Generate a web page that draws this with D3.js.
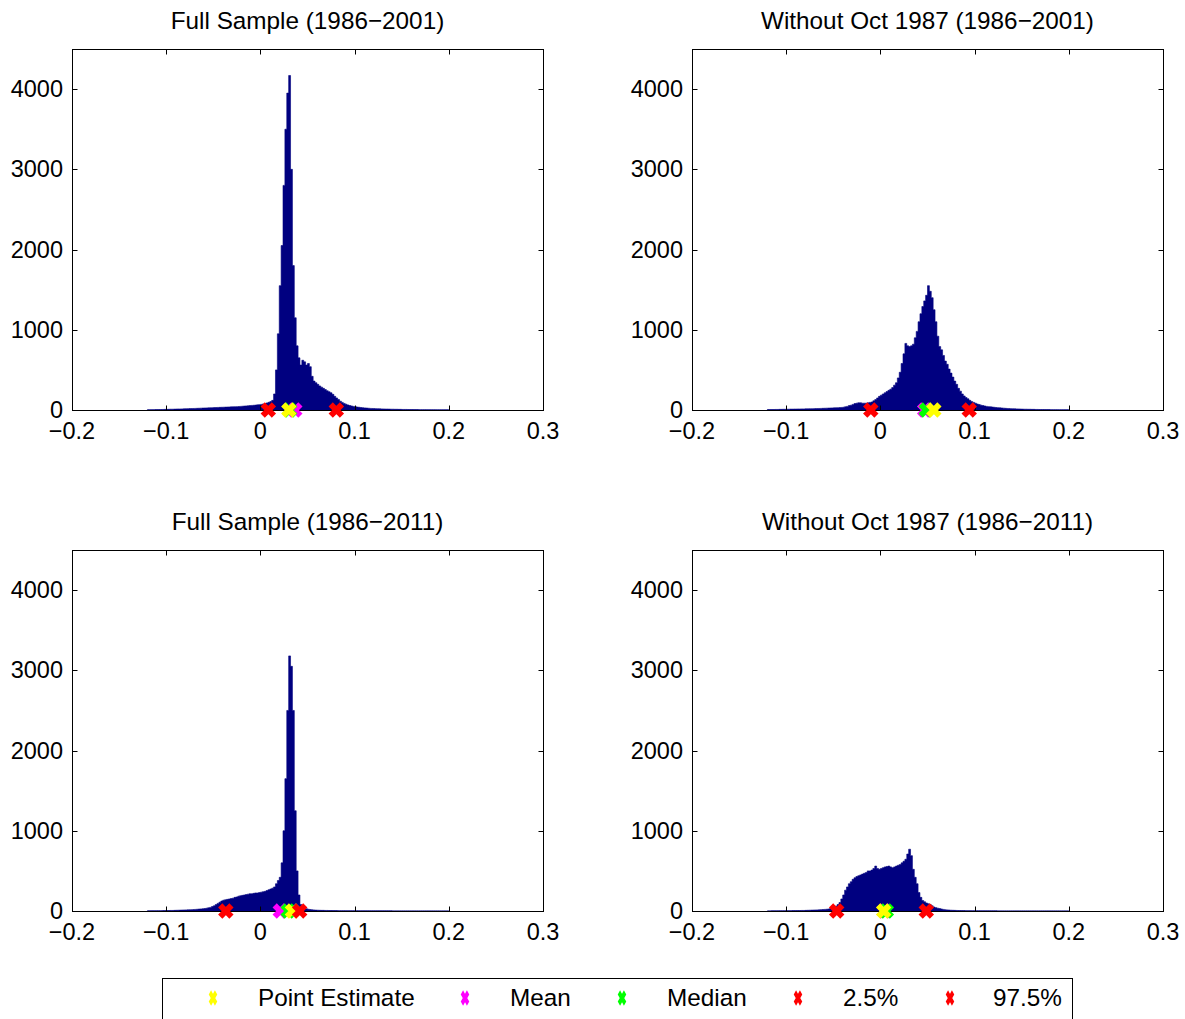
<!DOCTYPE html>
<html>
<head>
<meta charset="utf-8">
<script src="https://cdn.jsdelivr.net/npm/d3@7"></script>
<style>
  html, body { margin: 0; padding: 0; background: #fff; }
  svg { display: block; font-family: "Liberation Sans", Arial, Helvetica, sans-serif; }
</style>
</head>
<body>
<svg id="chart" width="1185" height="1019"></svg>
<script>
// ---------------- DATA ----------------
const panelTitles = [
  "Full Sample (1986\u22122001)",
  "Without Oct 1987 (1986\u22122001)",
  "Full Sample (1986\u22122011)",
  "Without Oct 1987 (1986\u22122011)"
];
const binStart = -0.12;   // left edge of first bin
const binWidth = 0.002;   // bin width

const countsFull2001 = [
  3,3,4,4,5,5,6,6,7,8,
  8,9,10,10,11,12,13,13,14,15,
  16,17,18,18,19,20,21,22,23,24,
  25,26,27,28,29,30,31,32,33,34,
  35,36,37,38,39,40,41,42,43,45,
  47,49,51,53,55,57,59,61,64,67,
  70,75,80,88,96,105,120,200,500,950,
  1550,2050,2800,3500,3950,4170,3000,1800,1150,800,
  650,560,620,600,560,580,540,420,360,340,
  320,300,285,270,255,240,228,215,195,170,
  150,130,110,95,82,72,63,56,50,45,
  41,37,34,31,28,26,24,22,20,19,
  18,17,16,15,14,13,12,12,11,10,
  10,9,9,8,8,7,7,7,6,6,
  6,5,5,5,4,4,4,4,3,3,
  3,3,3,2,2,2,2,2,2,2
];
const countsWoOct2001 = [
  5,5,6,6,7,7,8,8,9,9,
  10,10,11,11,12,12,13,13,14,14,
  15,15,16,16,17,18,18,19,20,21,
  22,23,24,25,26,27,28,29,30,32,
  35,40,45,55,60,70,80,85,90,90,
  85,85,85,90,95,100,115,130,150,170,
  185,200,215,230,245,260,280,310,340,400,
  470,580,700,830,800,790,800,820,900,980,
  1100,1200,1290,1360,1430,1550,1480,1400,1250,1100,
  920,790,750,680,610,570,510,460,410,360,
  320,270,235,200,175,155,140,120,105,95,
  85,75,68,60,55,50,45,42,40,37,
  34,31,29,27,25,23,21,19,18,17,
  16,15,14,13,12,11,10,10,9,9,
  8,8,7,7,6,6,6,5,5,5,
  4,4,4,4,3,3,3,3,3,3
];
const countsFull2011 = [
  2,2,3,3,3,4,4,4,5,5,
  6,6,7,7,8,9,10,11,12,13,
  14,15,16,17,18,20,22,24,26,28,
  31,35,40,45,55,65,80,95,110,125,
  135,140,145,150,155,160,170,175,185,190,
  195,200,205,210,215,215,220,225,225,230,
  235,240,245,255,265,275,285,300,340,380,
  420,600,1000,1650,2500,3180,3050,2500,1250,500,
  200,80,45,35,28,22,18,15,13,11,
  10,9,8,8,7,7,6,6,5,5,
  5,4,4,4,4,3,3,3,3,3,
  3,3,2,2,2,2,2,2,2,2,
  2,2,2,2,2,2,2,2,2,2,
  1,1,1,1,1,1,1,1,1,1,
  1,1,1,1,1,1,1,1,1,1,
  1,1,1,1,1,1,1,1,1,1
];
const countsWoOct2011 = [
  1,1,2,2,2,2,3,3,3,3,
  4,4,4,5,5,5,6,6,7,7,
  8,9,10,11,12,13,14,15,17,18,
  20,22,25,30,38,45,60,80,105,150,
  200,260,300,340,365,395,415,430,440,450,
  460,470,480,500,500,510,530,560,530,520,
  530,540,550,555,560,550,540,550,560,570,
  580,600,620,645,710,770,690,520,420,340,
  230,170,130,115,100,90,80,65,50,42,
  35,30,25,20,16,14,12,10,9,8,
  7,6,6,5,5,4,4,4,3,3,
  3,3,3,2,2,2,2,2,2,2,
  2,2,1,1,1,1,1,1,1,1,
  1,1,1,1,1,1,1,1,1,1,
  1,1,1,1,1,1,1,1,1,1,
  1,1,1,1,1,1,1,1,1,1
];
const panelCounts = [countsFull2001, countsWoOct2001, countsFull2011, countsWoOct2011];

// marker statistics per panel
const pointEstimate = [0.0302, 0.0567, 0.0340, 0.0035];
const meanVals      = [0.0365, 0.0470, 0.0211, 0.0040];
const medianVals    = [0.0310, 0.0487, 0.0295, 0.0063];
const pct025        = [0.0084, -0.0102, -0.0367, -0.0464];
const pct975        = [0.0806, 0.0943, 0.0417, 0.0487];

const xTicks = [-0.2, -0.1, 0, 0.1, 0.2, 0.3];
const xTickLabels = ["\u22120.2", "\u22120.1", "0", "0.1", "0.2", "0.3"];
const yTicks = [0, 1000, 2000, 3000, 4000];
const yTickLabels = ["0", "1000", "2000", "3000", "4000"];

const legendLabels = ["Point Estimate", "Mean", "Median", "2.5%", "97.5%"];
const legendColors = ["#ffff00", "#ff00ff", "#00ff00", "#ff0000", "#ff0000"];

// ---------------- LAYOUT ----------------
const svg = d3.select("#chart");
const W = 471, H = 361;
const origins = [[72, 49], [692, 49], [72, 550], [692, 550]];
const barColor = "#000080";
const fontSize = 23.5;

const x = d3.scaleLinear().domain([-0.2, 0.3]).range([0, W]);
const y = d3.scaleLinear().domain([0, 4500]).range([H, 0]);

function xMarker(g, cx, cy, color, sx) {
  const s = 3.5;
  g.append("path")
    .attr("transform", `translate(${cx},${cy}) scale(${sx},1)`)
    .attr("d", `M${-s},${-s}L${s},${s}M${-s},${s}L${s},${-s}`)
    .attr("stroke", color)
    .attr("stroke-width", 6)
    .attr("stroke-linecap", "square")
    .attr("fill", "none");
}

const area = d3.area()
  .curve(d3.curveStepAfter)
  .x(d => x(d.x0))
  .y0(y(0))
  .y1(d => y(d.c));

panelCounts.forEach((counts, p) => {
  const [ox, oy] = origins[p];
  const g = svg.append("g").attr("transform", `translate(${ox},${oy})`);

  // histogram as a single stepped shape (no seams between bars)
  const bins = counts.map((c, i) => ({ x0: binStart + i * binWidth, c }));
  bins.push({ x0: binStart + counts.length * binWidth, c: 0 });
  g.append("path").datum(bins)
    .attr("d", area)
    .attr("fill", barColor)
    .attr("stroke", barColor)
    .attr("stroke-width", 0.6)
    .attr("stroke-linejoin", "miter");

  // axes box
  g.append("rect").attr("x", 0.5).attr("y", 0.5).attr("width", W).attr("height", H)
    .attr("fill", "none").attr("stroke", "#000").attr("stroke-width", 1);

  // x ticks (inside, bottom & top)
  xTicks.forEach((t, i) => {
    const px = Math.round(x(t)) + 0.5;
    g.append("line").attr("x1", px).attr("x2", px).attr("y1", H + 0.5).attr("y2", H - 4.5).attr("stroke", "#000");
    g.append("line").attr("x1", px).attr("x2", px).attr("y1", 0.5).attr("y2", 5.5).attr("stroke", "#000");
    g.append("text").attr("x", x(t)).attr("y", H + 29)
      .attr("text-anchor", "middle").attr("font-size", fontSize).attr("fill", "#000")
      .text(xTickLabels[i]);
  });
  // y ticks (inside, left & right)
  yTicks.forEach((t, i) => {
    const py = Math.round(y(t)) + 0.5;
    g.append("line").attr("x1", 0.5).attr("x2", 5.5).attr("y1", py).attr("y2", py).attr("stroke", "#000");
    g.append("line").attr("x1", W + 0.5).attr("x2", W - 4.5).attr("y1", py).attr("y2", py).attr("stroke", "#000");
    g.append("text").attr("x", -9).attr("y", y(t) + 8)
      .attr("text-anchor", "end").attr("font-size", fontSize).attr("fill", "#000")
      .text(yTickLabels[i]);
  });

  // title
  g.append("text").attr("x", W / 2).attr("y", -20)
    .attr("text-anchor", "middle").attr("font-size", 24.3).attr("fill", "#000")
    .text(panelTitles[p]);

  // markers (draw order: mean, median, point estimate, 2.5%, 97.5%)
  const mk = g.append("g");
  xMarker(mk, x(meanVals[p]), y(0), "#ff00ff", 1);
  xMarker(mk, x(medianVals[p]), y(0), "#00ff00", 1);
  xMarker(mk, x(pointEstimate[p]), y(0), "#ffff00", 1);
  xMarker(mk, x(pct025[p]), y(0), "#ff0000", 1);
  xMarker(mk, x(pct975[p]), y(0), "#ff0000", 1);
});

// ---------------- LEGEND ----------------
const leg = svg.append("g");
leg.append("rect").attr("x", 162.5).attr("y", 978.5).attr("width", 910).attr("height", 60)
  .attr("fill", "#fff").attr("stroke", "#000").attr("stroke-width", 1);
const legMarkerX = [213, 465, 622, 798, 950];
const legTextX = [258, 510, 667, 843, 993];
legendLabels.forEach((lab, i) => {
  xMarker(leg, legMarkerX[i], 998, legendColors[i], 0.55);
  leg.append("text").attr("x", legTextX[i]).attr("y", 1006)
    .attr("font-size", 24.3).attr("fill", "#000").text(lab);
});
</script>
</body>
</html>
